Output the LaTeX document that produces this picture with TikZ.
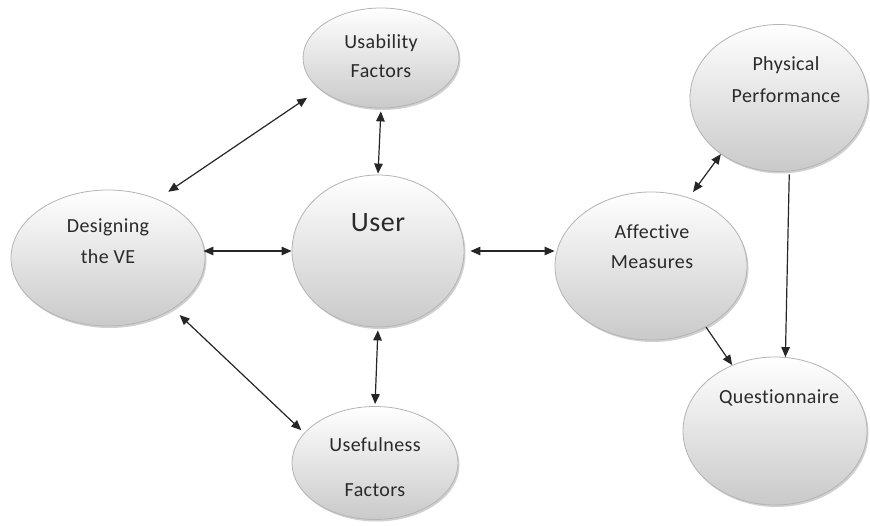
\documentclass[tikz,border=0pt]{standalone}
\usepackage{fontspec}
\setmainfont{Carlito}[Ligatures=NoCommon,LetterSpace=2]
\usetikzlibrary{arrows.meta,shadows,shapes.geometric}
\definecolor{txt}{HTML}{2A2A2A}
\definecolor{rim}{HTML}{B4B4B4}
\begin{document}
\begin{tikzpicture}[x=1pt,y=-1pt,
  bubble/.style={ellipse,draw=rim,line width=0.8pt,top color=white,bottom color=black!21,
    drop shadow={shadow xshift=1.5pt,shadow yshift=-2pt,opacity=0.3,fill=black!60},inner sep=0pt},
  lbl/.style={anchor=base,text=txt,inner sep=0pt,font=\fontsize{20}{22}\selectfont},
  big/.style={anchor=base,text=txt,inner sep=0pt,font=\fontsize{28}{30}\selectfont},
  link/.style={line width=1.2pt,draw=black!85,{Triangle[length=10pt,width=8.5pt]}-{Triangle[length=10pt,width=8.5pt]}},
  oneway/.style={line width=1.2pt,draw=black!85,-{Triangle[length=10pt,width=8.5pt]}}]
\useasboundingbox (0,0) rectangle (870,526);
\fill[white] (0,0) rectangle (870,526);

\node[bubble,minimum width=156pt,minimum height=100pt] (usab) at (381,58) {};
\node[bubble,minimum width=194pt,minimum height=136pt] (design) at (108,258) {};
\node[bubble,minimum width=172pt,minimum height=152pt] (user) at (378,251) {};
\node[bubble,minimum width=166pt,minimum height=113pt] (usef) at (375,463) {};
\node[bubble,minimum width=192pt,minimum height=148pt] (aff) at (651,266) {};
\node[bubble,minimum width=178pt,minimum height=147pt] (phys) at (779,98) {};
\node[bubble,minimum width=184pt,minimum height=148pt] (quest) at (775,431) {};

\node[lbl] (tusab1) at (381,49) {Usability};
\node[lbl] (tusab2) at (381,78) {Factors};
\node[lbl] (tdes1) at (108,233) {Designing};
\node[lbl] (tdes2) at (108,264) {the VE};
\node[big] (tuser) at (378,232) {User};
\node[lbl] (tusef1) at (375,451) {Usefulness};
\node[lbl] (tusef2) at (375,496) {Factors};
\node[lbl] (taff1) at (652,239) {Affective};
\node[lbl] (taff2) at (652,269) {Measures};
\node[lbl] (tphys1) at (786,71) {Physical};
\node[lbl] (tphys2) at (786,103) {Performance};
\node[lbl] (tquest) at (779,403) {Questionnaire};

\draw[link,shorten <=15pt,shorten >=13pt] (usab.207.5) -- (design.50);
\draw[link,shorten <=3pt,shorten >=1pt] (usab.south) -- (user.north);
\draw[link,shorten <=-2pt] (user.west -| design.east) -- (user.west);
\draw[link,shorten <=6pt] (user.east) -- (aff.west |- user.east);
\draw[link,shorten <=9pt,shorten >=4pt] (design.322) -- (usef.157);
\draw[link,shorten <=3pt,shorten >=2pt] (user.south) -- (usef.north);
\draw[link,shorten <=7pt] (aff.61) -- (phys.224);
\draw[oneway] (aff.312) -- (quest.123);
\draw[oneway,shorten <=3pt] (phys.278) -- (quest.82);
\end{tikzpicture}
\end{document}
